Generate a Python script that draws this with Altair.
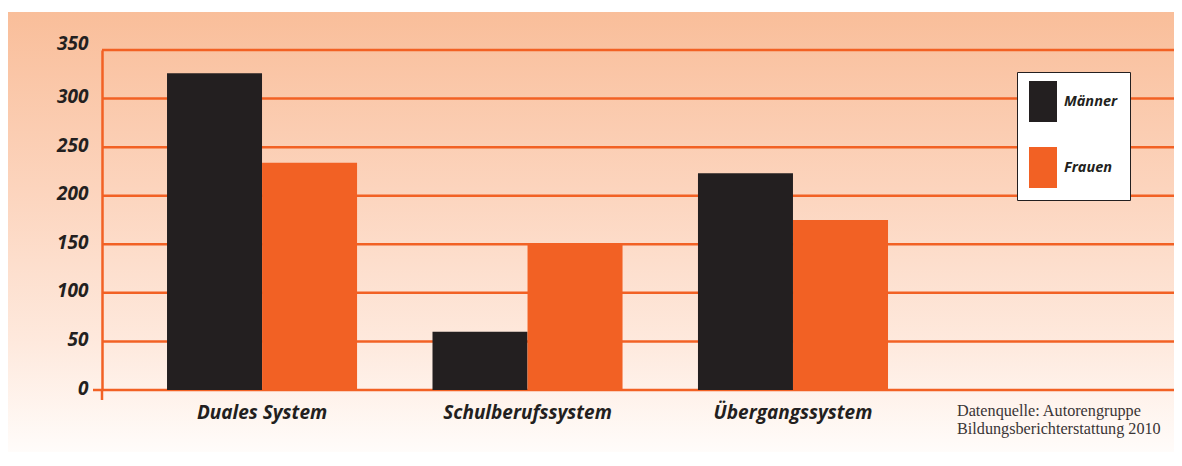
import altair as alt
import pandas as pd

# ---- data ----
CATEGORIES = ["Duales System", "Schulberufssystem", "Übergangssystem"]
MAENNER = [326, 60, 223]
FRAUEN = [234, 150, 175]
GROUPS = ["Männer", "Frauen"]
Y_TICKS = [0, 50, 100, 150, 200, 250, 300, 350]
SOURCE_LINES = ["Datenquelle: Autorengruppe", "Bildungsberichterstattung 2010"]

rows = []
for c, m, f in zip(CATEGORIES, MAENNER, FRAUEN):
    rows.append({"Bereich": c, "Geschlecht": "Männer", "Wert": m})
    rows.append({"Bereich": c, "Geschlecht": "Frauen", "Wert": f})
df = pd.DataFrame(rows)
grid_df = pd.DataFrame({"Wert": Y_TICKS})

ORANGE = "#f26124"
DARK = "#231f20"
FONT = "Open Sans"
W, H = 1072, 340

one = alt.Data(values=[{"k": 1}])
y_scale = alt.Scale(domain=[0, 350], nice=False)

background = alt.Chart(one).mark_rect(
    color=alt.Gradient(
        gradient="linear",
        x1=0, x2=0, y1=0, y2=1,
        stops=[
            alt.GradientStop(color="#f9be9a", offset=0),
            alt.GradientStop(color="#fcd4bd", offset=0.4),
            alt.GradientStop(color="#fee9dd", offset=0.75),
            alt.GradientStop(color="#fffcfa", offset=1),
        ],
    )
).encode(
    x=alt.value(-95), x2=alt.value(W), y=alt.value(-38), y2=alt.value(402)
)

grid = alt.Chart(grid_df).mark_rule(color=ORANGE, strokeWidth=2.5).encode(
    y=alt.Y("Wert:Q", scale=y_scale),
    x=alt.value(0), x2=alt.value(W),
)

bars = alt.Chart(df).mark_bar(size=95).encode(
    x=alt.X(
        "Bereich:N",
        sort=CATEGORIES,
        scale=alt.Scale(paddingInner=0.284, paddingOuter=0.661, align=0.1852, round=False),
        axis=alt.Axis(
            title=None, labelAngle=0, domain=False, ticks=False, zindex=1,
            labelFont=FONT, labelFontSize=19, labelFontWeight="bold",
            labelFontStyle="italic", labelColor=DARK, labelPadding=13,
        ),
    ),
    xOffset=alt.XOffset("Geschlecht:N", sort=GROUPS, scale=alt.Scale(paddingInner=0, paddingOuter=0)),
    y=alt.Y(
        "Wert:Q",
        scale=y_scale,
        axis=alt.Axis(
            title=None, values=Y_TICKS, grid=False, zindex=1,
            domain=True, domainColor=ORANGE, domainWidth=2.5,
            ticks=False, labelFont=FONT, labelFontSize=19, labelFontWeight="bold",
            labelFontStyle="italic", labelColor=DARK, labelPadding=14,
            labelOffset={"condition": {"test": "datum.value == 350", "value": -7}, "value": -2},
        ),
    ),
    color=alt.Color(
        "Geschlecht:N",
        sort=GROUPS,
        scale=alt.Scale(domain=GROUPS, range=[DARK, ORANGE]),
        legend=alt.Legend(
            title=None, orient="none", legendX=915, legendY=22,
            symbolType="M-1,-1.171H0.6V1.171H-1Z", symbolSize=1225,
            symbolStrokeWidth=0, symbolOpacity=1,
            fillColor="white", strokeColor=DARK, padding=12,
            rowPadding=25, labelOffset=0,
            labelExpr="datum.label + '\u00a0\u00a0\u00a0\u00a0\u00a0\u00a0\u00a0\u00a0'",
            labelFont=FONT, labelFontSize=14.5, labelFontWeight="bold",
            labelFontStyle="italic", labelColor=DARK,
        ),
    ),
)

tick_v = alt.Chart(one).mark_rule(color=ORANGE, strokeWidth=2.5).encode(
    x=alt.value(0), y=alt.value(H), y2=alt.value(H + 10)
)
tick_h = alt.Chart(one).mark_rule(color=ORANGE, strokeWidth=2.5).encode(
    x=alt.value(-9), x2=alt.value(0), y=alt.value(H)
)

note = alt.Chart(alt.Data(values=[{"note": SOURCE_LINES}])).mark_text(
    align="left", baseline="alphabetic", font="Liberation Serif",
    fontSize=16.2, lineHeight=18, color="#3a3536",
).encode(text="note:N", x=alt.value(855), y=alt.value(366))

chart = alt.layer(background, grid, bars, tick_v, tick_h, note).properties(
    width=W, height=H,
    autosize=alt.AutoSizeParams(type="none"),
    padding={"left": 94, "top": 42, "right": 0, "bottom": 62},
).configure_view(stroke=None).configure(background="white")

chart.save("out.html", embed_options={"renderer": "svg", "actions": False})
